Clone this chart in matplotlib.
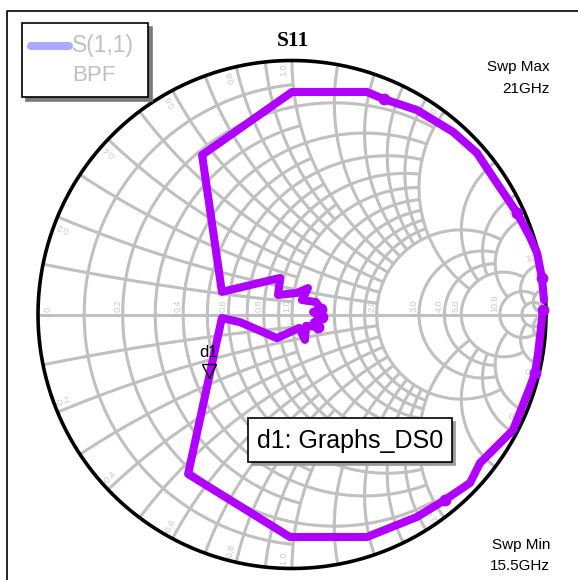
import numpy as np
import matplotlib
matplotlib.use("Agg")
import matplotlib.pyplot as plt
from matplotlib.patches import Rectangle
from matplotlib import transforms

# ---- data -------------------------------------------------------------
# S(1,1) of the band-pass filter, reflection coefficient (real, imag),
# in sweep order from 15.5 GHz to 21 GHz
s11_re = [0.988, 0.969, 0.957, 0.937, 0.870, 0.740, 0.701, 0.602, 0.492, 0.295,
          -0.008, -0.409, -0.276, -0.205, -0.059, 0.028, 0.051, 0.055, 0.102, 0.087,
          0.118, 0.083, 0.114, 0.094, 0.039, 0.063, 0.020, -0.055, -0.047, -0.276,
          -0.354, 0.000, 0.295, 0.362, 0.492, 0.634, 0.728, 0.791, 0.886, 0.937,
          0.965, 0.984, 0.992]
s11_im = [0.018, -0.152, -0.230, -0.285, -0.455, -0.585, -0.663, -0.730, -0.797, -0.876,
          -0.876, -0.628, -0.014, -0.030, -0.093, -0.053, -0.100, -0.045, -0.049, -0.030,
          -0.010, 0.010, 0.022, 0.049, 0.057, 0.104, 0.085, 0.077, 0.144, 0.089,
          0.628, 0.876, 0.876, 0.848, 0.805, 0.719, 0.636, 0.541, 0.400, 0.305,
          0.242, 0.144, 0.057]
# points where the sweep dwells (drawn as dots)
dwell_idx = [0, 2, 7, 18, 20, 22, 33, 38, 41]

# marker d1
d1_re, d1_im = -0.327, -0.246

# Smith grid: (normalised value, limit of the crossing family)
r_lines = [(0.1, 1), (0.2, 2), (0.3, 1), (0.4, 2), (0.5, 1), (0.6, 2), (0.7, 1),
           (0.8, 2), (0.9, 1), (1.0, 2), (1.2, 2), (1.4, 2), (1.6, 2), (1.8, 2),
           (2.0, 5), (3.0, 5), (4.0, 5), (5.0, 10), (10.0, 20), (20.0, 50)]
x_lines = r_lines
r_labels = ["0", "0.2", "0.4", "0.6", "0.8", "1.0", "2.0", "3.0", "4.0", "5.0", "10.0"]
x_labels = ["0.2", "0.4", "0.6", "0.8", "1.0", "2.0", "5.0", "10"]

legend_name = "S(1,1)"
legend_sub = "BPF"
title = "S11"
swp_max = ["Swp Max", "21GHz"]
swp_min = ["Swp Min", "15.5GHz"]
marker_name = "d1"
marker_text = "d1: Graphs_DS0"

# ---- layout (pixel geometry of the canvas) ----------------------------
W, H = 578, 580
CX, CY, RAD = 292.0, 314.5, 254.0
GRID = "#c0c0c0"
TRACE = "#b000ff"
SANS = "Liberation Sans"

fig = plt.figure(figsize=(W / 100, H / 100), dpi=100)
ax = fig.add_axes([0, 0, 1, 1])
ax.set_xlim(-CX / RAD, (W - CX) / RAD)
ax.set_ylim(-(H - CY) / RAD, CY / RAD)
ax.set_aspect("equal")
ax.axis("off")


def P(px, py):
    """canvas pixel -> chart coordinates"""
    return (px - CX) / RAD, (CY - py) / RAD


def gamma(z):
    return (z - 1) / (z + 1)


# resistance circles
for r, lim in r_lines:
    x = np.linspace(-lim, lim, 3000)
    g = gamma(r + 1j * x)
    ax.plot(g.real, g.imag, color=GRID, lw=2.2, zorder=1, solid_capstyle="butt")
# reactance arcs
for xv, lim in x_lines:
    rr = np.concatenate([np.linspace(0, 1, 800), np.linspace(1, lim, 2000)])
    for s in (1, -1):
        g = gamma(rr + 1j * s * xv)
        ax.plot(g.real, g.imag, color=GRID, lw=2.2, zorder=1, solid_capstyle="butt")
ax.plot([-1, 1], [0, 0], color=GRID, lw=2.2, zorder=1)

# grid labels on the real axis
for lab in r_labels:
    r = float(lab)
    gx = (r - 1) / (r + 1)
    dx = 10 / RAD if r == 0 else -5 / RAD
    ax.text(gx + dx, 3 / RAD, lab, rotation=90, rotation_mode="anchor",
            ha="left", va="center", fontsize=6.5, color="#c8c8c8",
            family=SANS, zorder=2)
# grid labels along the rim
for lab in x_labels:
    xv = float(lab)
    for s in (1, -1):
        th = np.angle(gamma(1j * s * xv))
        th2 = th + s * 8 / RAD
        rad = 1 - 9 / RAD
        rot = np.degrees(th) if s > 0 else np.degrees(th) + 180
        txt = lab if s > 0 else "-" + lab
        ax.text(rad * np.cos(th2), rad * np.sin(th2), txt, rotation=rot,
                rotation_mode="anchor", ha="center", va="center",
                fontsize=6.5, color="#c8c8c8", family=SANS, zorder=2)

# outer circle
t = np.linspace(0, 2 * np.pi, 1000)
ax.plot(np.cos(t), np.sin(t), color="black", lw=2.6, zorder=3)

# trace
ax.plot(s11_re, s11_im, color=TRACE, lw=5.8, solid_joinstyle="round",
        solid_capstyle="round", zorder=4)
ax.plot([s11_re[i] for i in dwell_idx], [s11_im[i] for i in dwell_idx], "o",
        color=TRACE, ms=8.5, mew=0, zorder=4)

# marker d1
off = transforms.offset_copy(ax.transData, fig=fig, x=0, y=5.5, units="dots")
ax.plot([d1_re], [d1_im], marker="v", ms=10, mfc="none", mec="black", mew=1.0,
        transform=off, zorder=6)
ax.text(d1_re, d1_im + 17 / RAD, marker_name, ha="center", va="bottom",
        fontsize=12, family=SANS, zorder=6)

# figure frame
ax.plot(*zip(P(7, 580), P(7, 11), P(578, 11)), color="black", lw=1.2,
        zorder=2, clip_on=False)

# legend box
for (x0, y0, x1, y1, fc, ec, z) in [(25.7, 26.7, 151.7, 101.3, "#7a7a7a", "#7a7a7a", 6),
                                    (21.7, 22.7, 147.7, 97.3, "white", "black", 7)]:
    a0 = P(x0, y1)
    a1 = P(x1, y0)
    ax.add_patch(Rectangle(a0, a1[0] - a0[0], a1[1] - a0[1], fc=fc, ec=ec,
                           lw=1.2, zorder=z))
ax.plot(*zip(P(31, 45.5), P(69, 45.5)), color="#aaaaff", lw=5.8,
        solid_capstyle="round", zorder=8)
ax.text(*P(72, 45.5), legend_name, ha="left", va="center", fontsize=16.5,
        color="#c0c0c0", family=SANS, zorder=8)
ax.text(*P(72, 75), legend_sub, ha="left", va="center", fontsize=16,
        color="#c0c0c0", family=SANS, zorder=8)

# title and sweep notes
ax.text(*P(293, 41), title, ha="center", va="center", fontsize=15.5,
        fontweight="bold", family="Liberation Serif", zorder=8)
ax.text(*P(550, 67.5), swp_max[0], ha="right", va="center", fontsize=11,
        family=SANS, zorder=8)
ax.text(*P(550, 89), swp_max[1], ha="right", va="center", fontsize=11,
        family=SANS, zorder=8)
ax.text(*P(550, 545), swp_min[0], ha="right", va="center", fontsize=11,
        family=SANS, zorder=8)
ax.text(*P(550, 566), swp_min[1], ha="right", va="center", fontsize=11,
        family=SANS, zorder=8)

# marker readout box
for (x0, y0, x1, y1, fc, ec, z) in [(251.5, 421.5, 454.5, 465, "#9a9a9a", "#9a9a9a", 8),
                                    (248.3, 418.3, 451.7, 461.7, "white", "black", 9)]:
    a0 = P(x0, y1)
    a1 = P(x1, y0)
    ax.add_patch(Rectangle(a0, a1[0] - a0[0], a1[1] - a0[1], fc=fc, ec=ec,
                           lw=1.2, zorder=z))
ax.text(*P(350, 441), marker_text, ha="center", va="center", fontsize=18,
        family=SANS, zorder=10)

fig.savefig("out.png", dpi=100)
